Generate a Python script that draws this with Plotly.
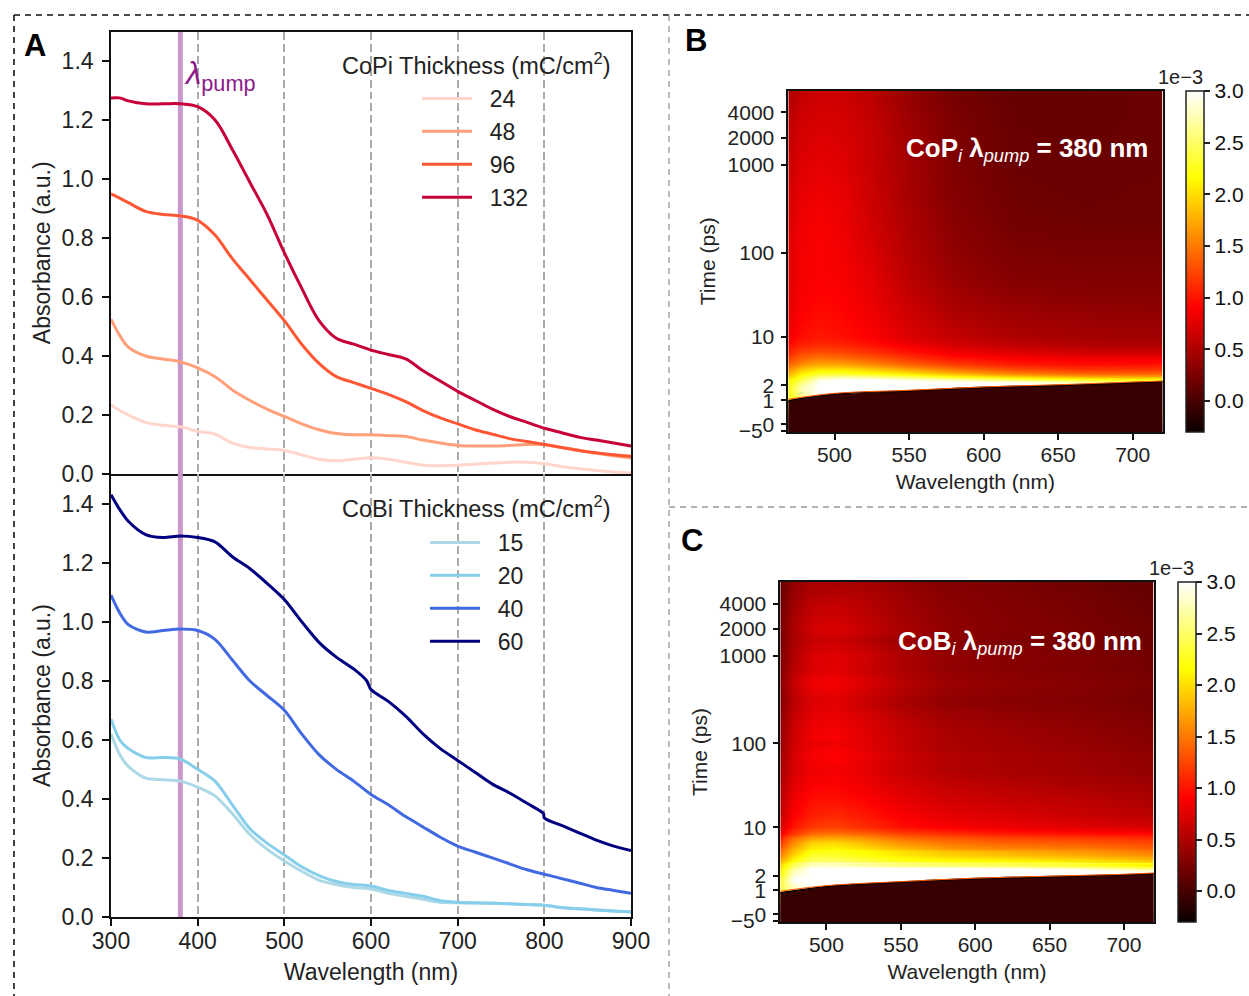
import numpy as np
import plotly.graph_objects as go

W, H = 1249, 996
FONT = "Liberation Sans"

# ---------- Panel A data ----------
WL_TOP = [300,310,320,340,360,380,400,420,440,460,480,500,520,540,560,580,600,620,640,660,680,700,720,740,760,780,800,820,840,860,880,900]
COPI_24 = [.235,.215,.20,.175,.165,.16,.145,.135,.105,.09,.085,.08,.065,.05,.045,.05,.055,.05,.04,.03,.028,.03,.033,.037,.04,.04,.035,.025,.018,.012,.007,.003]
COPI_48 = [.525,.47,.43,.40,.39,.38,.36,.33,.285,.25,.22,.195,.17,.15,.137,.133,.133,.13,.127,.115,.105,.097,.095,.095,.097,.10,.10,.09,.08,.07,.062,.055]
COPI_96 = [.95,.935,.92,.89,.88,.875,.86,.81,.73,.66,.59,.52,.44,.375,.33,.31,.29,.27,.245,.215,.19,.17,.15,.135,.12,.11,.10,.09,.08,.072,.065,.06]
COPI_132 = [1.275,1.275,1.265,1.255,1.255,1.255,1.245,1.20,1.10,.99,.88,.75,.63,.52,.46,.44,.42,.405,.39,.35,.315,.28,.25,.22,.195,.175,.155,.14,.125,.115,.105,.095]

WL_BOT = [300,310,320,340,360,380,400,420,440,460,480,500,520,540,560,580,600,620,640,660,680,700,720,740,760,780,800,820,840,860,880,900]
COBI_15 = [.62,.55,.51,.47,.465,.46,.44,.41,.35,.28,.23,.19,.155,.125,.11,.10,.095,.08,.07,.06,.05,.048,.047,.046,.045,.042,.04,.032,.028,.024,.02,.017]
COBI_20 = [.67,.60,.57,.54,.54,.535,.50,.46,.38,.30,.25,.21,.17,.14,.12,.11,.105,.09,.08,.07,.055,.05,.048,.047,.045,.042,.04,.032,.028,.024,.02,.017]
COBI_40 = [1.09,1.03,.99,.965,.97,.975,.97,.94,.87,.80,.75,.70,.62,.55,.50,.46,.415,.38,.34,.305,.27,.24,.22,.20,.18,.16,.145,.13,.115,.10,.09,.08]
WL_60 = [300,310,320,340,360,380,400,420,440,460,480,500,520,540,560,580,595,600,620,640,660,680,700,720,740,760,780,799,800,820,840,860,880,900]
COBI_60 = [1.43,1.38,1.34,1.295,1.285,1.29,1.285,1.27,1.22,1.18,1.13,1.075,1.0,.93,.88,.84,.80,.77,.73,.68,.62,.57,.53,.49,.45,.42,.385,.35,.335,.31,.285,.26,.24,.225]

PUMP_WL = 380
TOP_COLORS = ["#FFD5CC", "#FFA07A", "#FF5733", "#C70039"]
BOT_COLORS = ["#ADD8E6", "#87CEEB", "#4169E1", "#000080"]
TOP_NAMES = ["24", "48", "96", "132"]
BOT_NAMES = ["15", "20", "40", "60"]

# ---------- Heat map data (1e-3 units) ----------
HEAT_WL = [467,478,490,505,525,550,580,620,670,723]
ONSET_WL = [467,500,550,600,650,700,723]

B_TIMES = [-5,0,0.7,1,1.2,1.4,1.6,1.8,2,2.2,2.4,2.7,3,3.5,4,5,6,7,8,10,14,20,30,50,100,200,400,1000,2000,4000,7000]
B_Z = [
 [-.1,-.1,-.1,-.1,-.1,-.1,-.1,-.1,-.1,-.1],
 [-.1,-.1,-.1,-.1,-.1,-.1,-.1,-.1,-.1,-.1],
 [2.1,2.6,3,3,3,3,3,3,3,3],
 [2.1,2.6,3,3,3,3,3,3,3,3],
 [2.1,2.6,3,3,3,3,3,3,3,3],
 [2.1,2.7,3,3,3,3,3,3,3,3],
 [2.1,2.75,3,3,3,3,3,3,3,3],
 [2.1,2.75,3,3,3,3,3,3,3,3],
 [2.1,2.7,3,3,3,3,3,3,3,3],
 [2.05,2.55,3,3,3,3,3,3,2.8,2.6],
 [2.0,2.4,2.9,3,3,2.9,2.75,2.5,2.25,2.2],
 [1.85,2.25,2.6,2.7,2.6,2.45,2.2,1.95,1.75,1.75],
 [1.7,2.1,2.3,2.3,2.2,2.05,1.8,1.55,1.4,1.4],
 [1.5,1.85,2.0,2.0,1.88,1.68,1.45,1.25,1.12,1.15],
 [1.35,1.62,1.75,1.72,1.6,1.4,1.22,1.05,.98,1.0],
 [1.15,1.38,1.48,1.42,1.32,1.15,.98,.88,.82,.82],
 [1.05,1.25,1.3,1.26,1.16,1.0,.85,.75,.68,.66],
 [.98,1.12,1.18,1.14,1.05,.9,.75,.65,.58,.56],
 [.9,1.05,1.1,1.06,.97,.82,.68,.58,.52,.5],
 [.82,.98,1.02,.98,.9,.74,.62,.52,.46,.44],
 [.78,.93,.98,.95,.86,.7,.56,.46,.42,.4],
 [.76,.9,.95,.92,.83,.66,.5,.42,.38,.36],
 [.74,.88,.92,.9,.8,.62,.46,.36,.32,.32],
 [.72,.86,.9,.87,.77,.57,.4,.3,.28,.28],
 [.72,.85,.9,.85,.72,.53,.36,.26,.24,.24],
 [.7,.84,.88,.82,.68,.5,.33,.22,.2,.2],
 [.68,.8,.84,.8,.65,.47,.3,.2,.18,.2],
 [.62,.74,.78,.75,.63,.45,.28,.18,.17,.18],
 [.58,.7,.74,.72,.62,.44,.27,.17,.16,.18],
 [.54,.66,.7,.69,.6,.41,.25,.16,.15,.18],
 [.48,.6,.66,.66,.56,.38,.23,.15,.15,.18],
]
B_ONSET = [.96,1.33,1.55,1.82,2.0,2.19,2.28]
B_EDGE = [1.03,1.38,1.59,1.86,2.04,2.23,2.32]

C_TIMES = [-5,0,0.7,1,1.2,1.6,2,2.2,2.4,2.6,2.8,3,3.2,3.5,4,4.5,5,6,7,8,10,14,20,30,50,70,100,120,200,300,500,700,1000,1500,2000,3000,4000,5000,7000]
C_Z = [
 [-.1,-.1,-.1,-.1,-.1,-.1,-.1,-.1,-.1,-.1],
 [-.1,-.1,-.1,-.1,-.1,-.1,-.1,-.1,-.1,-.1],
 [2.3,2.8,3,3,3,3,3,3,3,3],
 [2.3,2.8,3,3,3,3,3,3,3,3],
 [2.3,2.8,3,3,3,3,3,3,3,3],
 [2.2,3,3,3,3,3,3,3,3,3],
 [2.1,2.9,3,3,3,3,3,3,3,3],
 [2.0,2.8,3,3,3,3,3,3,3,3],
 [2.0,2.75,3,3,3,3,3,3,3,2.8],
 [1.9,2.6,3,3,3,3,3,2.9,2.75,2.45],
 [1.85,2.45,2.75,2.75,2.65,2.5,2.45,2.4,2.25,2.05],
 [1.8,2.4,2.8,2.85,2.75,2.65,2.55,2.5,2.4,2.2],
 [1.7,2.25,2.55,2.55,2.45,2.35,2.25,2.2,2.1,1.95],
 [1.6,2.1,2.45,2.45,2.35,2.2,2.1,2.05,1.95,1.8],
 [1.45,1.95,2.3,2.3,2.2,2.05,1.95,1.85,1.75,1.6],
 [1.35,1.85,2.2,2.25,2.15,2.0,1.85,1.75,1.65,1.5],
 [1.25,1.75,2.05,2.1,2.0,1.8,1.65,1.55,1.5,1.35],
 [1.1,1.6,1.95,2.0,1.85,1.65,1.5,1.4,1.35,1.25],
 [1.0,1.45,1.7,1.75,1.65,1.45,1.35,1.25,1.2,1.12],
 [.8,1.2,1.45,1.5,1.42,1.25,1.15,1.05,1.0,.95],
 [.65,1.0,1.18,1.22,1.12,.98,.88,.82,.76,.7],
 [.55,.9,1.05,1.1,1.02,.88,.78,.72,.64,.56],
 [.5,.84,.98,1.0,.93,.8,.7,.64,.58,.5],
 [.45,.78,.9,.92,.85,.72,.62,.56,.5,.44],
 [.4,.7,.82,.85,.78,.63,.52,.47,.42,.36],
 [.36,.72,.87,.92,.82,.66,.54,.48,.43,.36],
 [.34,.66,.8,.84,.76,.6,.48,.43,.38,.31],
 [.32,.68,.84,.88,.78,.63,.5,.44,.38,.31],
 [.3,.62,.78,.82,.72,.56,.44,.38,.33,.26],
 [.25,.56,.72,.76,.64,.48,.36,.31,.28,.22],
 [.25,.62,.82,.86,.74,.56,.42,.36,.31,.24],
 [.22,.55,.72,.76,.66,.5,.37,.31,.27,.21],
 [.22,.52,.72,.76,.68,.5,.38,.32,.28,.21],
 [.2,.46,.62,.66,.56,.42,.33,.27,.24,.17],
 [.2,.5,.68,.74,.64,.48,.36,.3,.26,.19],
 [.18,.46,.62,.66,.58,.45,.35,.29,.24,.17],
 [.15,.44,.58,.62,.56,.44,.34,.28,.24,.16],
 [.12,.4,.52,.55,.52,.42,.32,.27,.22,.14],
 [.1,.38,.48,.48,.46,.38,.3,.26,.2,.13],
]
C_ONSET = [.88,1.2,1.47,1.73,1.9,2.05,2.15]
C_EDGE = [.95,1.25,1.51,1.77,1.94,2.09,2.19]

TIME_TICKS = [-5,0,1,2,10,100,1000,2000,4000]
TIME_LABELS = ["\u22125\u00a0\u00a0","0","1","2","10","100","1000","2000","4000"]
CBAR_TICKS = [0,.5,1,1.5,2,2.5,3]

# time axis warp (the reference uses a symlog-like time scale)
SCALE_T = np.array([-5,0,1,2,10,100,1000,2000,4000,7000], float)
SCALE_P = np.array([1,7.7,31.7,46.7,95,179.4,267.4,294.4,320,341.7])
def warp(t):
    t = np.asarray(t, float)
    key = np.where(t >= 1, 1 + np.log10(np.maximum(t, 1)), t)
    ref = np.where(SCALE_T >= 1, 1 + np.log10(np.maximum(SCALE_T, 1)), SCALE_T)
    return np.interp(key, ref, SCALE_P)

HOT = [[0,"#0b0000"],[.365,"#ff0000"],[.746,"#ffff00"],[1,"#ffffff"]]

def dx(a, b): return [a / W, b / W]
def dy(top, bottom): return [1 - bottom / H, 1 - top / H]

fig = go.Figure()

# ---------- Panel A ----------
fig.add_trace(go.Scatter(x=[PUMP_WL, PUMP_WL], y=[0, 1.5], mode="lines", line=dict(color="#C897CC", width=5),
                         showlegend=False, xaxis="x", yaxis="y", hoverinfo="skip"))
fig.add_trace(go.Scatter(x=[PUMP_WL, PUMP_WL], y=[0, 1.5], mode="lines", line=dict(color="#C897CC", width=5),
                         showlegend=False, xaxis="x2", yaxis="y2", hoverinfo="skip"))
for name, col, vals in zip(TOP_NAMES, TOP_COLORS, [COPI_24, COPI_48, COPI_96, COPI_132]):
    fig.add_trace(go.Scatter(x=WL_TOP, y=vals, name="\u00a0\u00a0" + name, mode="lines", line=dict(color=col, width=3, shape="spline", smoothing=1.0),
                             xaxis="x", yaxis="y", legend="legend", legendgroup="t" + name))
for name, col, xs, vals in zip(BOT_NAMES, BOT_COLORS, [WL_BOT, WL_BOT, WL_BOT, WL_60], [COBI_15, COBI_20, COBI_40, COBI_60]):
    fig.add_trace(go.Scatter(x=xs, y=vals, name="\u00a0\u00a0" + name, mode="lines", line=dict(color=col, width=3, shape="spline", smoothing=0.8),
                             xaxis="x2", yaxis="y2", legend="legend2", legendgroup="b" + name))

# ---------- Panels B, C ----------
def add_heat(times, z, onset, edge, xa, ya, cb_x, cb_top, cb_bot):
    fig.add_trace(go.Heatmap(x=HEAT_WL, y=warp(times), z=z, colorscale=HOT, zmin=-0.3, zmax=3, zsmooth="best",
                             xaxis=xa, yaxis=ya,
                             colorbar=dict(x=cb_x, xanchor="left", xpad=0, ypad=0, thickness=18, lenmode="fraction",
                                           len=(cb_bot - cb_top) / H, y=1 - cb_bot / H, yanchor="bottom",
                                           outlinewidth=1.5, outlinecolor="#222", tickvals=CBAR_TICKS, tickformat=".1f",
                                           ticks="outside", ticklen=6, tickwidth=1.5, tickcolor="#222",
                                           tickfont=dict(size=21, color="#111", family=FONT))))
    fig.add_trace(go.Scatter(x=ONSET_WL + [ONSET_WL[-1], ONSET_WL[0]], y=list(warp(onset)) + [0, 0], mode="lines", fill="toself",
                             fillcolor="#360000", line=dict(color="rgba(0,0,0,0)", width=0), showlegend=False, hoverinfo="skip",
                             xaxis=xa, yaxis=ya))
    fig.add_trace(go.Scatter(x=ONSET_WL, y=warp(onset), mode="lines", line=dict(color="#0b0000", width=1.6, shape="spline"),
                             showlegend=False, hoverinfo="skip", xaxis=xa, yaxis=ya))
    fig.add_trace(go.Scatter(x=ONSET_WL, y=warp(edge), mode="lines", line=dict(color="#ff5a00", width=1, shape="spline"),
                             showlegend=False, hoverinfo="skip", xaxis=xa, yaxis=ya))

add_heat(B_TIMES, B_Z, B_ONSET, B_EDGE, "x3", "y3", 1186 / W, 91, 432)
add_heat(C_TIMES, C_Z, C_ONSET, C_EDGE, "x4", "y4", 1178 / W, 582, 922)

frame = dict(showline=True, linecolor="#111", linewidth=1.6, mirror=True, ticks="outside", tickcolor="#111", tickwidth=1.5, zeroline=False, automargin=False)
tf_a = dict(size=23, color="#222", family=FONT)
tf_h = dict(size=21, color="#222", family=FONT)
grid = dict(showgrid=True, gridcolor="#aaaaaa", griddash="8px,4px", gridwidth=1.5)
A_X = [300,400,500,600,700,800,900]
A_Y = [0,.2,.4,.6,.8,1.0,1.2,1.4]

fig.update_layout(
    width=W, height=H, autosize=False, margin=dict(l=0, r=0, t=0, b=0, autoexpand=False),
    paper_bgcolor="white", plot_bgcolor="white", font=dict(family=FONT, color="#222"),
    xaxis=dict(domain=dx(111, 631), range=[300, 900], tickvals=A_X, showticklabels=False, anchor="y", **{**frame, "ticks": ""}, **grid),
    yaxis=dict(domain=dy(31.5, 474), range=[0, 1.5], tickvals=A_Y, tickformat=".1f", ticklen=7, tickfont=tf_a, ticklabelstandoff=4, showgrid=False, anchor="x",
               title=dict(text="Absorbance (a.u.)", font=tf_a, standoff=5), **frame),
    xaxis2=dict(domain=dx(111, 631), range=[300, 900], tickvals=A_X, ticklen=7, tickfont=tf_a, ticklabelstandoff=-4, anchor="y2",
                title=dict(text="Wavelength (nm)", font=tf_a, standoff=10), **{**frame, "mirror": False}, **grid),
    yaxis2=dict(domain=dy(474, 917), range=[0, 1.5], tickvals=A_Y, tickformat=".1f", ticklen=7, tickfont=tf_a, ticklabelstandoff=4, showgrid=False, anchor="x2",
                title=dict(text="Absorbance (a.u.)", font=tf_a, standoff=5), **frame),
    xaxis3=dict(domain=dx(788.3, 1162.5), range=[469, 720], tickvals=[500,550,600,650,700], ticklen=6, tickfont=tf_h, ticklabelstandoff=-3, anchor="y3",
                showgrid=False, title=dict(text="Wavelength (nm)", font=tf_h, standoff=9), **frame),
    yaxis3=dict(domain=dy(90.5, 432), range=[0, 341.7], tickvals=warp(TIME_TICKS), ticktext=TIME_LABELS, ticklen=6, tickfont=tf_h, ticklabelstandoff=2, anchor="x3",
                showgrid=False, title=dict(text="Time (ps)", font=tf_h, standoff=6), **frame),
    xaxis4=dict(domain=dx(780.3, 1153.7), range=[469, 720], tickvals=[500,550,600,650,700], ticklen=6, tickfont=tf_h, ticklabelstandoff=-3, anchor="y4",
                showgrid=False, title=dict(text="Wavelength (nm)", font=tf_h, standoff=9), **frame),
    yaxis4=dict(domain=dy(582, 922), range=[0, 341.7], tickvals=warp(TIME_TICKS), ticktext=TIME_LABELS, ticklen=6, tickfont=tf_h, ticklabelstandoff=2, anchor="x4",
                showgrid=False, title=dict(text="Time (ps)", font=tf_h, standoff=6), **frame),
    legend=dict(x=417 / W, y=1 - 77 / H, xanchor="left", yanchor="top", bgcolor="rgba(0,0,0,0)", borderwidth=0,
                font=dict(size=23, color="#222", family=FONT), itemwidth=50, tracegroupgap=0, itemclick=False, itemdoubleclick=False),
    legend2=dict(x=425 / W, y=1 - 521 / H, xanchor="left", yanchor="top", bgcolor="rgba(0,0,0,0)", borderwidth=0,
                 font=dict(size=23, color="#222", family=FONT), itemwidth=50, tracegroupgap=0, itemclick=False, itemdoubleclick=False),
)

def note(text, px, py, size, color="#222", xanchor="center", bold=False):
    fig.add_annotation(text=f"<b>{text}</b>" if bold else text, xref="paper", yref="paper", x=px / W, y=1 - py / H,
                       xanchor=xanchor, yanchor="middle", showarrow=False, font=dict(size=size, color=color, family=FONT))

note("CoPi Thickness (mC/cm<sup>2</sup>)", 476, 64, 23.5)
note("CoBi Thickness (mC/cm<sup>2</sup>)", 476, 507, 23.5)
note("<i>\u03bb</i><sub>pump</sub>", 182, 76, 31, color="#8B1A8B", xanchor="left")
note("A", 35, 45, 31, color="#000", bold=True)
note("B", 696, 41, 31, color="#000", bold=True)
note("C", 692, 540, 31, color="#000", bold=True)
note("<b>CoP</b><sub><i>i</i></sub> <b>\u03bb</b><sub><i>pump</i></sub><b> = 380 nm</b>", 904, 150, 26, color="#fff", xanchor="left")
note("<b>CoB</b><sub><i>i</i></sub> <b>\u03bb</b><sub><i>pump</i></sub><b> = 380 nm</b>", 896, 642, 26, color="#fff", xanchor="left")
note("1e\u22123", 1180, 77, 20)
note("1e\u22123", 1171, 568, 20)

def sep(x0, y0, x1, y1, color, width):
    fig.add_shape(type="line", xref="paper", yref="paper", x0=x0 / W, x1=x1 / W, y0=1 - y0 / H, y1=1 - y1 / H,
                  line=dict(color=color, width=width, dash="6px,5px"))

sep(14, 15, W, 15, "#111", 1.6)
sep(14, 15, 14, H, "#111", 1.6)
sep(669, 15, 669, H, "#999", 1.3)
sep(669, 507, W, 507, "#999", 1.3)

fig.write_html("out.html", config={"displayModeBar": False}, post_script="document.body.style.margin='0';document.body.style.overflow='hidden';")
